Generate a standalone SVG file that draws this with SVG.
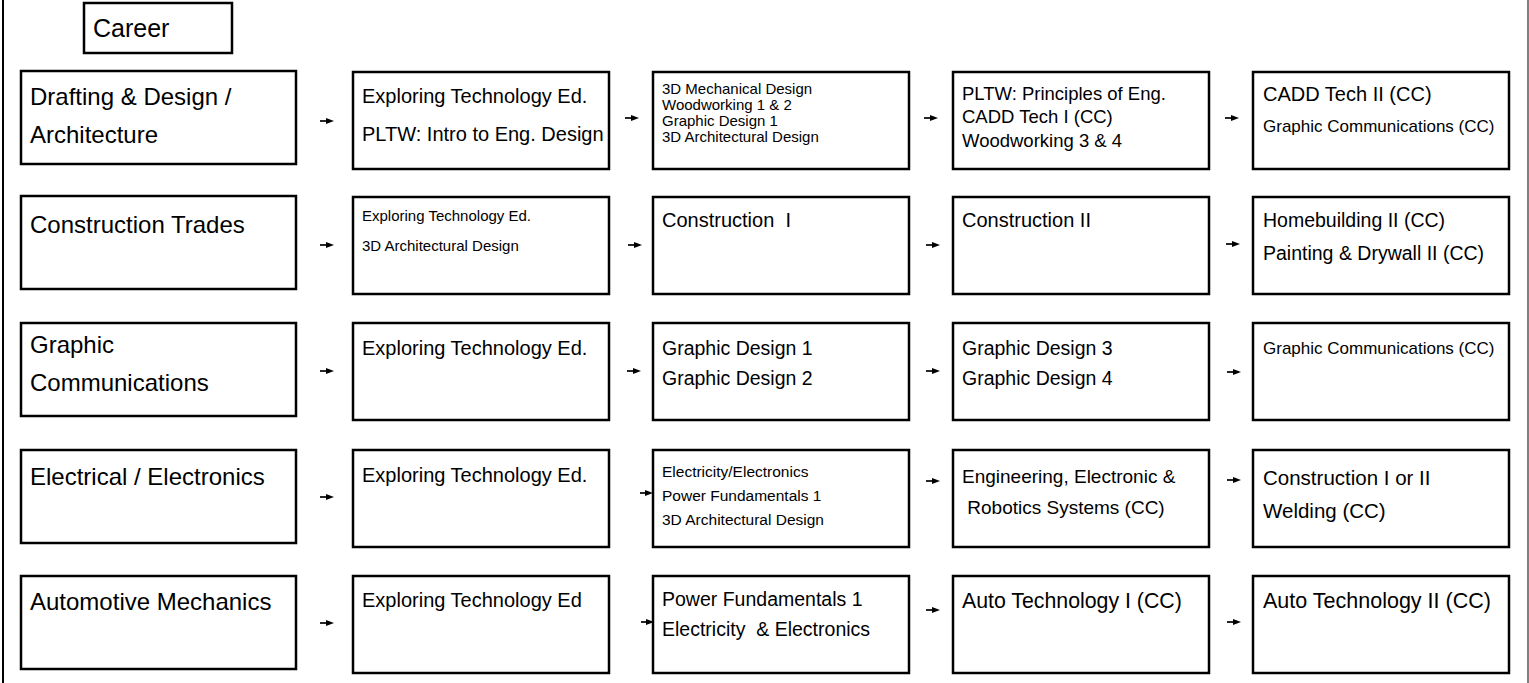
<svg xmlns="http://www.w3.org/2000/svg" width="1529" height="683" viewBox="0 0 1529 683">
<defs>
<marker id="ah" markerUnits="userSpaceOnUse" markerWidth="8" markerHeight="7" refX="0" refY="3.5" orient="auto">
<path d="M0,0.5 L8,3.5 L0,6.5 z" fill="#000"/>
</marker>
<style>
.box{fill:#fff;stroke:#000;stroke-width:2.5}
.t{font-family:"Liberation Sans",Arial,sans-serif;fill:#000}
.c{font-size:24px}
.m{font-size:20px}
.s{font-size:15px}
.a{stroke:#000;stroke-width:1.7;fill:none;marker-end:url(#ah)}
</style>
</defs>
<rect x="0" y="0" width="1529" height="683" fill="#fff"/>
<line x1="3" y1="0" x2="3" y2="683" stroke="#000" stroke-width="2"/>
<line x1="1528" y1="0" x2="1528" y2="683" stroke="#000" stroke-width="1"/>

<g id="header">
<rect class="box" x="84" y="3" width="148" height="50"/>
<text class="t" font-size="25" x="93" y="37">Career</text>
</g>

<!-- Row 1 -->
<g id="r1c1"><rect class="box" x="21" y="71" width="275" height="93"/>
<text class="t c" x="30" y="105">Drafting &amp; Design /</text>
<text class="t c" x="30" y="143">Architecture</text></g>
<g id="r1c2"><rect class="box" x="353" y="72" width="256" height="97"/>
<text class="t m" x="362" y="103">Exploring Technology Ed.</text>
<text class="t m" x="362" y="141">PLTW: Intro to Eng. Design</text></g>
<g id="r1c3"><rect class="box" x="653" y="72" width="256" height="97"/>
<text class="t s" x="662" y="94">3D Mechanical Design</text>
<text class="t s" x="662" y="110">Woodworking 1 &amp; 2</text>
<text class="t s" x="662" y="126">Graphic Design 1</text>
<text class="t s" x="662" y="142">3D Architectural Design</text></g>
<g id="r1c4"><rect class="box" x="953" y="72" width="256" height="97"/>
<text class="t" font-size="18.5" x="962" y="100">PLTW: Principles of Eng.</text>
<text class="t" font-size="18.5" x="962" y="123">CADD Tech I (CC)</text>
<text class="t" font-size="18.5" x="962" y="147">Woodworking 3 &amp; 4</text></g>
<g id="r1c5"><rect class="box" x="1253" y="72" width="256" height="97"/>
<text class="t m" x="1263" y="101">CADD Tech II (CC)</text>
<text class="t" font-size="17" x="1263" y="132">Graphic Communications (CC)</text></g>

<!-- Row 2 -->
<g id="r2c1"><rect class="box" x="21" y="196" width="275" height="93"/>
<text class="t c" x="30" y="233">Construction Trades</text></g>
<g id="r2c2"><rect class="box" x="353" y="197" width="256" height="97"/>
<text class="t s" x="362" y="221">Exploring Technology Ed.</text>
<text class="t s" x="362" y="251">3D Architectural Design</text></g>
<g id="r2c3"><rect class="box" x="653" y="197" width="256" height="97"/>
<text class="t m" x="662" y="227" xml:space="preserve">Construction  I</text></g>
<g id="r2c4"><rect class="box" x="953" y="197" width="256" height="97"/>
<text class="t m" x="962" y="227">Construction II</text></g>
<g id="r2c5"><rect class="box" x="1253" y="197" width="256" height="97"/>
<text class="t" font-size="19.5" x="1263" y="227">Homebuilding II (CC)</text>
<text class="t" font-size="19.5" x="1263" y="260">Painting &amp; Drywall II (CC)</text></g>

<!-- Row 3 -->
<g id="r3c1"><rect class="box" x="21" y="323" width="275" height="93"/>
<text class="t c" x="30" y="353">Graphic</text>
<text class="t c" x="30" y="391">Communications</text></g>
<g id="r3c2"><rect class="box" x="353" y="323" width="256" height="97"/>
<text class="t m" x="362" y="355">Exploring Technology Ed.</text></g>
<g id="r3c3"><rect class="box" x="653" y="323" width="256" height="97"/>
<text class="t" font-size="19.5" x="662" y="355">Graphic Design 1</text>
<text class="t" font-size="19.5" x="662" y="385">Graphic Design 2</text></g>
<g id="r3c4"><rect class="box" x="953" y="323" width="256" height="97"/>
<text class="t" font-size="19.5" x="962" y="355">Graphic Design 3</text>
<text class="t" font-size="19.5" x="962" y="385">Graphic Design 4</text></g>
<g id="r3c5"><rect class="box" x="1253" y="323" width="256" height="97"/>
<text class="t" font-size="17" x="1263" y="354">Graphic Communications (CC)</text></g>

<!-- Row 4 -->
<g id="r4c1"><rect class="box" x="21" y="450" width="275" height="93"/>
<text class="t c" x="30" y="485">Electrical / Electronics</text></g>
<g id="r4c2"><rect class="box" x="353" y="450" width="256" height="97"/>
<text class="t m" x="362" y="482">Exploring Technology Ed.</text></g>
<g id="r4c3"><rect class="box" x="653" y="450" width="256" height="97"/>
<text class="t" font-size="15.5" x="662" y="477">Electricity/Electronics</text>
<text class="t" font-size="15.5" x="662" y="501">Power Fundamentals 1</text>
<text class="t" font-size="15.5" x="662" y="525">3D Architectural Design</text></g>
<g id="r4c4"><rect class="box" x="953" y="450" width="256" height="97"/>
<text class="t" font-size="19" x="962" y="483">Engineering, Electronic &amp;</text>
<text class="t" font-size="19" x="962" y="514" xml:space="preserve"> Robotics Systems (CC)</text></g>
<g id="r4c5"><rect class="box" x="1253" y="450" width="256" height="97"/>
<text class="t" font-size="20.5" x="1263" y="485">Construction I or II</text>
<text class="t" font-size="20.5" x="1263" y="518">Welding (CC)</text></g>

<!-- Row 5 -->
<g id="r5c1"><rect class="box" x="21" y="576" width="275" height="93"/>
<text class="t c" x="30" y="610">Automotive Mechanics</text></g>
<g id="r5c2"><rect class="box" x="353" y="576" width="256" height="97"/>
<text class="t m" x="362" y="607">Exploring Technology Ed</text></g>
<g id="r5c3"><rect class="box" x="653" y="576" width="256" height="97"/>
<text class="t" font-size="19.5" x="662" y="606">Power Fundamentals 1</text>
<text class="t" font-size="19.5" x="662" y="636" xml:space="preserve">Electricity  &amp; Electronics</text></g>
<g id="r5c4"><rect class="box" x="953" y="576" width="256" height="97"/>
<text class="t" font-size="21.3" x="962" y="608">Auto Technology I (CC)</text></g>
<g id="r5c5"><rect class="box" x="1253" y="576" width="256" height="97"/>
<text class="t" font-size="21.5" x="1263" y="608">Auto Technology II (CC)</text></g>

<g id="connectors">
<line class="a" x1="320" y1="121" x2="326" y2="121"/>
<line class="a" x1="625" y1="118" x2="631" y2="118"/>
<line class="a" x1="924" y1="118" x2="930" y2="118"/>
<line class="a" x1="1225" y1="118" x2="1231" y2="118"/>

<line class="a" x1="320" y1="245" x2="326" y2="245"/>
<line class="a" x1="628" y1="245" x2="634" y2="245"/>
<line class="a" x1="926" y1="245" x2="932" y2="245"/>
<line class="a" x1="1226" y1="244" x2="1232" y2="244"/>

<line class="a" x1="320" y1="371" x2="326" y2="371"/>
<line class="a" x1="627" y1="371" x2="633" y2="371"/>
<line class="a" x1="926" y1="371" x2="932" y2="371"/>
<line class="a" x1="1227" y1="372" x2="1233" y2="372"/>

<line class="a" x1="320" y1="497" x2="326" y2="497"/>
<line class="a" x1="640" y1="493" x2="645" y2="493"/>
<line class="a" x1="926" y1="481" x2="932" y2="481"/>
<line class="a" x1="1227" y1="480" x2="1233" y2="480"/>

<line class="a" x1="320" y1="623" x2="326" y2="623"/>
<line class="a" x1="641" y1="622" x2="646" y2="622"/>
<line class="a" x1="926" y1="610" x2="932" y2="610"/>
<line class="a" x1="1227" y1="622" x2="1233" y2="622"/>
</g>
</svg>
